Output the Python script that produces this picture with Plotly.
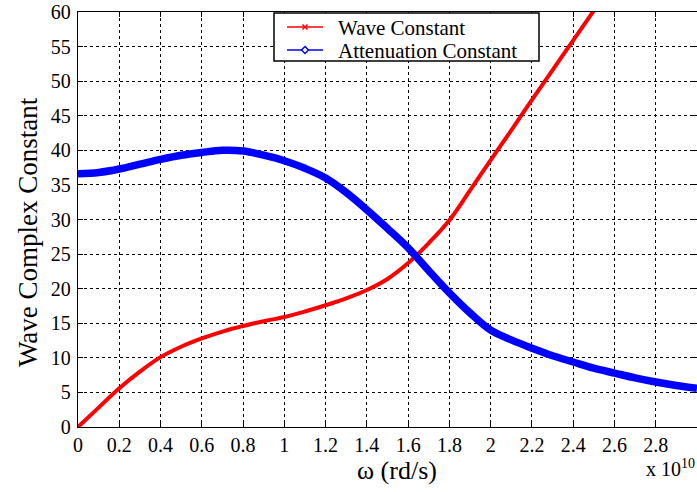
import plotly.graph_objects as go

omega = [0, 0.1, 0.2, 0.3, 0.4, 0.5, 0.6, 0.7, 0.8, 0.9, 1.0, 1.1, 1.2, 1.3, 1.4, 1.5,
         1.6, 1.7, 1.8, 1.9, 2.0, 2.1, 2.2, 2.3, 2.4, 2.5, 2.6, 2.7, 2.8, 2.9, 3.0]
wave_constant = [0, 2.8, 5.6, 8.0, 10.1, 11.6, 12.8, 13.8, 14.6, 15.3, 15.9, 16.7, 17.6,
                 18.6, 19.8, 21.4, 23.7, 26.6, 29.9, 34.2, 38.6, 42.9, 47.3, 51.6, 55.9, 60.2]
attenuation_constant = [36.6, 36.8, 37.3, 38.0, 38.7, 39.3, 39.7, 40.0, 39.9, 39.3, 38.5,
                        37.4, 36.0, 33.9, 31.4, 28.7, 25.9, 22.6, 19.4, 16.5, 14.0, 12.6,
                        11.4, 10.3, 9.4, 8.5, 7.8, 7.1, 6.5, 6.0, 5.6]
series_names = ["Wave Constant", "Attenuation Constant"]
series_colors = ["#ff0000", "#0000ff"]
x_ticks = [0, 0.2, 0.4, 0.6, 0.8, 1, 1.2, 1.4, 1.6, 1.8, 2, 2.2, 2.4, 2.6, 2.8, 3]
y_ticks = list(range(0, 61, 5))

FONT = "Liberation Serif, Times New Roman, serif"
W, H = 697, 492
ML, MR, MT, MB = 78, 0, 12, 65
PW, PH = W - ML - MR, H - MT - MB


def px(x):
    return (x - ML) / PW


def py(y):
    return (H - MB - y) / PH


fig = go.Figure()
fig.add_trace(go.Scatter(x=omega[:len(wave_constant)], y=wave_constant, mode="lines",
                         name=series_names[0],
                         line=dict(color=series_colors[0], width=4, shape="spline"),
                         showlegend=False, hoverinfo="skip"))
fig.add_trace(go.Scatter(x=omega, y=attenuation_constant, mode="lines",
                         name=series_names[1],
                         line=dict(color=series_colors[1], width=7.5, shape="spline"),
                         showlegend=False, hoverinfo="skip"))

axis_common = dict(showline=True, linecolor="black", linewidth=1.3, mirror="allticks",
                   ticks="inside", ticklen=5, tickcolor="black", tickwidth=1,
                   showgrid=True, gridcolor="black", gridwidth=1, griddash="dot",
                   zeroline=False, tickfont=dict(family=FONT, size=20, color="black"))

fig.update_xaxes(range=[0, 3], tickvals=x_ticks,
                 ticktext=[f"{v:g}" for v in x_ticks], **axis_common)
fig.update_yaxes(range=[0, 60], tickvals=y_ticks, ticklabelstandoff=2, **axis_common)

# axis titles and exponent
fig.add_annotation(text="ω (rd/s)", xref="paper", yref="paper", x=px(397), y=py(470),
                   xanchor="center", yanchor="middle", showarrow=False,
                   font=dict(family=FONT, size=26, color="black"))
fig.add_annotation(text="Wave Complex Constant", xref="paper", yref="paper", x=px(28),
                   y=py(232), xanchor="center", yanchor="middle", textangle=-90,
                   showarrow=False, font=dict(family=FONT, size=27, color="black"))
fig.add_annotation(text="x 10<sup>10</sup>", xref="paper", yref="paper", x=1.0, y=py(468),
                   xanchor="right", yanchor="middle", showarrow=False,
                   font=dict(family=FONT, size=20, color="black"))

# manual legend box (MATLAB style)
shapes = [dict(type="rect", xref="paper", yref="paper", x0=px(274), x1=px(539),
               y0=py(13), y1=py(61), fillcolor="white",
               line=dict(color="black", width=1.5), layer="above")]
rows = [27, 50]
for name, color, yr in zip(series_names, series_colors, rows):
    shapes.append(dict(type="line", xref="paper", yref="paper", x0=px(287), x1=px(323),
                       y0=py(yr), y1=py(yr), line=dict(color=color, width=1.5),
                       layer="above"))
    fig.add_annotation(text=name, xref="paper", yref="paper", x=px(336), y=py(yr + 1),
                       xanchor="left", yanchor="middle", showarrow=False,
                       font=dict(family=FONT, size=21, color="black"))
# legend glyphs: x marker and diamond marker
cx = 305
shapes.append(dict(type="line", xref="paper", yref="paper", x0=px(cx - 2.5), x1=px(cx + 2.5),
                   y0=py(rows[0] - 2.5), y1=py(rows[0] + 2.5),
                   line=dict(color=series_colors[0], width=1.5), layer="above"))
shapes.append(dict(type="line", xref="paper", yref="paper", x0=px(cx - 2.5), x1=px(cx + 2.5),
                   y0=py(rows[0] + 2.5), y1=py(rows[0] - 2.5),
                   line=dict(color=series_colors[0], width=1.5), layer="above"))
d = 3.5
path = (f"M {px(cx - d)} {py(rows[1])} L {px(cx)} {py(rows[1] - d)} "
        f"L {px(cx + d)} {py(rows[1])} L {px(cx)} {py(rows[1] + d)} Z")
shapes.append(dict(type="path", xref="paper", yref="paper", path=path, fillcolor="white",
                   line=dict(color=series_colors[1], width=1.5), layer="above"))

fig.update_layout(
    width=W, height=H,
    margin=dict(l=ML, r=MR, t=MT, b=MB),
    paper_bgcolor="white", plot_bgcolor="white",
    font=dict(family=FONT, color="black"),
    showlegend=False,
    shapes=shapes,
)

fig.write_html("out.html")
